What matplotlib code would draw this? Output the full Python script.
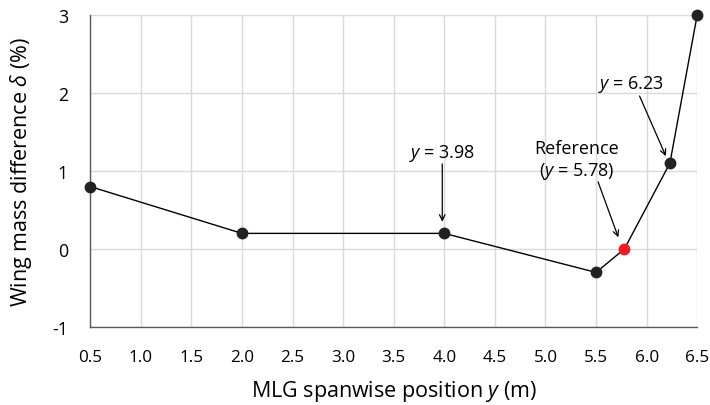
import matplotlib
matplotlib.use("Agg")
import matplotlib.pyplot as plt

plt.rcParams['font.family'] = ['Open Sans', 'DejaVu Sans']
plt.rcParams['mathtext.fontset'] = 'custom'
plt.rcParams['mathtext.rm'] = 'Open Sans'
plt.rcParams['mathtext.it'] = 'Open Sans:italic'

# MLG spanwise position (m) and wing mass difference (%)
pos = [0.5, 2.0, 4.0, 5.5, 5.78, 6.23, 6.5]
delta = [0.8, 0.2, 0.2, -0.3, 0.0, 1.1, 3.0]
ref_pos = 5.78
ref_delta = 0.0

x_ticks = [0.5, 1.0, 1.5, 2.0, 2.5, 3.0, 3.5, 4.0, 4.5, 5.0, 5.5, 6.0, 6.5]
y_ticks = [-1, 0, 1, 2, 3]

fig = plt.figure(figsize=(7.1, 4.06), dpi=100)
ax = fig.add_axes([0.127, 0.192, 0.855, 0.769])

ax.plot(pos, delta, color='black', lw=1, zorder=3)
others_x = [p for p in pos if p != ref_pos]
others_y = [d for p, d in zip(pos, delta) if p != ref_pos]
ax.plot(others_x, others_y, 'o', color='#222222', ms=7.5, zorder=4, clip_on=False)
ax.plot([ref_pos], [ref_delta], 'o', color='#ee1c24', ms=7.5, zorder=5)

ax.set_xlim(0.5, 6.5)
ax.set_ylim(-1, 3)
ax.set_xticks(x_ticks)
ax.set_xticklabels([f"{v:.1f}" for v in x_ticks])
ax.set_yticks(y_ticks)
ax.set_yticklabels([str(v) for v in y_ticks])
ax.tick_params(axis='x', length=0, labelsize=12.3, pad=16)
ax.tick_params(axis='y', length=0, labelsize=12.8, pad=16)
ax.grid(True, color='#d9d9d9', lw=1)
ax.set_axisbelow(True)
for s in ['top', 'right']:
    ax.spines[s].set_visible(False)
for s in ['left', 'bottom']:
    ax.spines[s].set_color('#595959')
    ax.spines[s].set_linewidth(1)

ax.set_xlabel('MLG spanwise position $y$ (m)', fontsize=15.5, labelpad=9)
ax.set_ylabel('Wing mass difference $\\delta$ (%)', fontsize=15.5, labelpad=13)

arrow = dict(arrowstyle='->', color='black', lw=0.9, shrinkA=0, shrinkB=0)
ax.annotate('', xy=(3.98, 0.35), xytext=(3.98, 1.09), arrowprops=arrow)
ax.text(3.98, 1.24, '$y$ = 3.98', ha='center', va='center', fontsize=13)
ax.annotate('', xy=(5.72, 0.15), xytext=(5.52, 0.86), arrowprops=arrow)
ax.text(5.31, 1.14, 'Reference\n($y$ = 5.78)', ha='center', va='center', fontsize=13,
        linespacing=1.2)
ax.annotate('', xy=(6.19, 1.19), xytext=(5.93, 1.96), arrowprops=arrow)
ax.text(5.85, 2.12, '$y$ = 6.23', ha='center', va='center', fontsize=13)

fig.savefig('out.png', dpi=100)
